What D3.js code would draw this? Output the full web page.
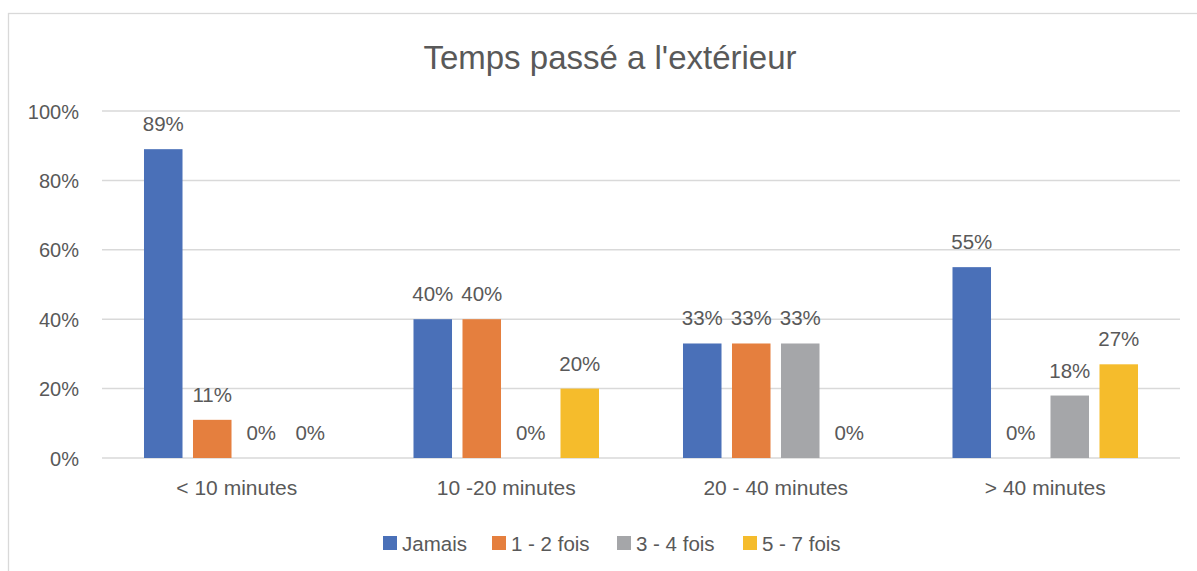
<!DOCTYPE html>
<html>
<head>
<meta charset="utf-8">
<script src="https://cdnjs.cloudflare.com/ajax/libs/d3/7.8.5/d3.min.js"></script>
<style>
  body { margin: 0; background: #fff; }
  text { font-family: "Liberation Sans", Arial, sans-serif; fill: #595959; }
</style>
</head>
<body>
<div class="chart"></div>
<script>

// data
var categories = ["< 10 minutes", "10 -20 minutes", "20 - 40 minutes", "> 40 minutes"];
var seriesNames = ["Jamais", "1 - 2 fois", "3 - 4 fois", "5 - 7 fois"];
var jamais = [0.89, 0.40, 0.33, 0.55];
var fois12 = [0.11, 0.40, 0.33, 0];
var fois34 = [0, 0, 0.33, 0.18];
var fois57 = [0, 0.20, 0, 0.27];
var yTicks = [0, 0.2, 0.4, 0.6, 0.8, 1];
var colors = ["#4a70b8", "#e57f3e", "#a5a6a9", "#f5bc2c"];

var width = 1197, height = 571;
var margin = {top: 111, right: 17, bottom: 113, left: 102};

var svg = d3.select(".chart")
  .append("svg")
  .attr("width", width)
  .attr("height", height);

// chart frame (runs off the right and bottom)
svg.append("rect")
  .attr("x", 8.5).attr("y", 13.5)
  .attr("width", 1300).attr("height", 700)
  .attr("fill", "none")
  .attr("stroke", "#d9d9d9")
  .attr("stroke-width", 1.3);

svg.append("text")
  .attr("x", 610).attr("y", 69)
  .attr("text-anchor", "middle")
  .style("font-size", "33px")
  .text("Temps passé a l'extérieur");

var x0 = d3.scaleBand()
  .domain(categories)
  .range([margin.left, width - margin.right]);

var x1 = d3.scaleBand()
  .domain(seriesNames)
  .range([0, x0.bandwidth()])
  .paddingInner(0.214)
  .paddingOuter(0.857);

var y = d3.scaleLinear()
  .domain([0, 1])
  .range([height - margin.bottom, margin.top]);

// gridlines
svg.append("g")
  .selectAll("line")
  .data(yTicks)
  .enter().append("line")
  .attr("x1", margin.left)
  .attr("x2", width - margin.right)
  .attr("y1", function(d) { return y(d); })
  .attr("y2", function(d) { return y(d); })
  .attr("stroke", "#d9d9d9")
  .attr("stroke-width", 1.5);

// y axis labels
var yAxis = d3.axisLeft(y)
  .tickValues(yTicks)
  .tickFormat(d3.format(".0%"))
  .tickSize(0)
  .tickPadding(23);

svg.append("g")
  .attr("transform", "translate(" + margin.left + ",0)")
  .call(yAxis)
  .call(function(g) { g.select(".domain").remove(); })
  .selectAll("text")
  .attr("dy", "0.35em")
  .style("font-size", "20px")
  .style("font-family", null)
  .attr("fill", "#595959");

// x axis labels
var xAxis = d3.axisBottom(x0).tickSize(0).tickPadding(22);

svg.append("g")
  .attr("transform", "translate(0," + (height - margin.bottom) + ")")
  .call(xAxis)
  .call(function(g) { g.select(".domain").remove(); })
  .selectAll("text")
  .style("font-size", "21px")
  .style("font-family", null)
  .attr("fill", "#595959");

var allSeries = [jamais, fois12, fois34, fois57];

var rows = categories.map(function(c, i) {
  return seriesNames.map(function(s, j) {
    return {cat: c, name: s, value: allSeries[j][i], color: colors[j]};
  });
});

var groups = svg.selectAll(".grp")
  .data(rows)
  .enter().append("g")
  .attr("class", "grp")
  .attr("transform", function(d, i) { return "translate(" + x0(categories[i]) + ",0)"; });

groups.selectAll("rect")
  .data(function(d) { return d; })
  .enter().append("rect")
  .attr("x", function(d) { return x1(d.name); })
  .attr("y", function(d) { return y(d.value); })
  .attr("width", x1.bandwidth())
  .attr("height", function(d) { return y(0) - y(d.value); })
  .attr("fill", function(d) { return d.color; });

groups.selectAll(".lbl")
  .data(function(d) { return d; })
  .enter().append("text")
  .attr("class", "lbl")
  .attr("x", function(d) { return x1(d.name) + x1.bandwidth() / 2; })
  .attr("y", function(d) { return y(d.value) - 18; })
  .attr("text-anchor", "middle")
  .style("font-size", "20.5px")
  .text(function(d) { return d3.format(".0%")(d.value); });

// legend
var legendX = [383, 492, 617, 743];
var legend = svg.selectAll(".leg")
  .data(seriesNames)
  .enter().append("g")
  .attr("class", "leg")
  .attr("transform", function(d, i) { return "translate(" + legendX[i] + ",536)"; });

legend.append("rect")
  .attr("width", 14).attr("height", 14)
  .attr("fill", function(d, i) { return colors[i]; });

legend.append("text")
  .attr("x", 19).attr("y", 14.5)
  .style("font-size", "20.5px")
  .text(function(d) { return d; });

</script>
</body>
</html>
